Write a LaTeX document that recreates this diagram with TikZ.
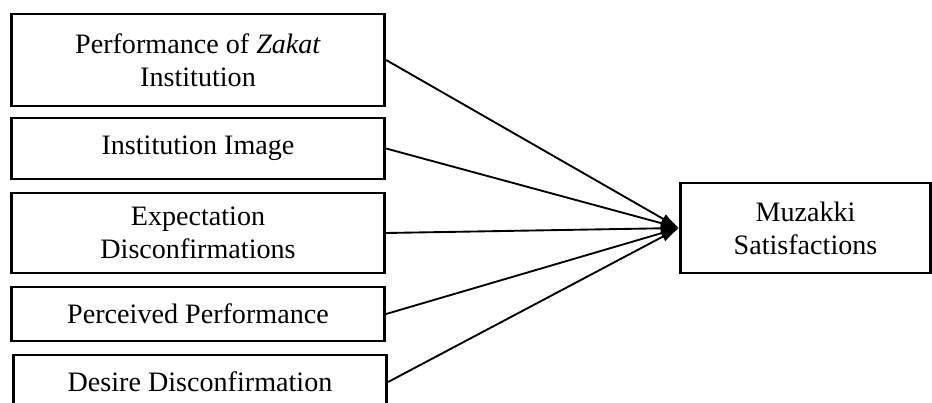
\documentclass[tikz,border=0pt]{standalone}
\usepackage{fontspec}
\setmainfont{Liberation Serif}
\usetikzlibrary{arrows.meta, positioning}

\begin{document}
\begin{tikzpicture}[x=0.03cm, y=-0.03cm,
    factor/.style={rectangle, draw, line width=2.4pt, align=center, minimum width=11.2cm, font=\fontsize{24}{28}\selectfont},
    target/.style={rectangle, draw, line width=2.4pt, align=center, minimum width=7.5cm, minimum height=2.7cm, font=\fontsize{24}{28}\selectfont},
    line/.style={draw, -{Latex[length=0.55cm, width=0.32cm]}, line width=1.6pt}]

    \useasboundingbox (0,0) rectangle (932,403);
    \clip (0,0) rectangle (932,403);

    % Factors
    \node [factor, minimum height=2.76cm] (perf) at (198,60) {Performance of \textit{Zakat}\\Institution};
    \node [factor, minimum height=1.83cm] (image) at (198,148.5) {Institution Image};
    \node [factor, minimum height=2.4cm] (expect) at (198,233) {Expectation\\Disconfirmations};
    \node [factor, minimum height=1.62cm] (perceived) at (198,314) {Perceived Performance};
    \node [factor, minimum height=1.62cm] (desire) at (200,382) {Desire Disconfirmation};

    % Outcome
    \node [target] (satisf) at (805.5,228) {Muzakki\\Satisfactions};

    % Connections
    \path [line] (perf.east) -- (satisf.west);
    \path [line] (image.east) -- (satisf.west);
    \path [line] (expect.east) -- (satisf.west);
    \path [line] (perceived.east) -- (satisf.west);
    \path [line] (desire.east) -- (satisf.west);

\end{tikzpicture}
\end{document}
